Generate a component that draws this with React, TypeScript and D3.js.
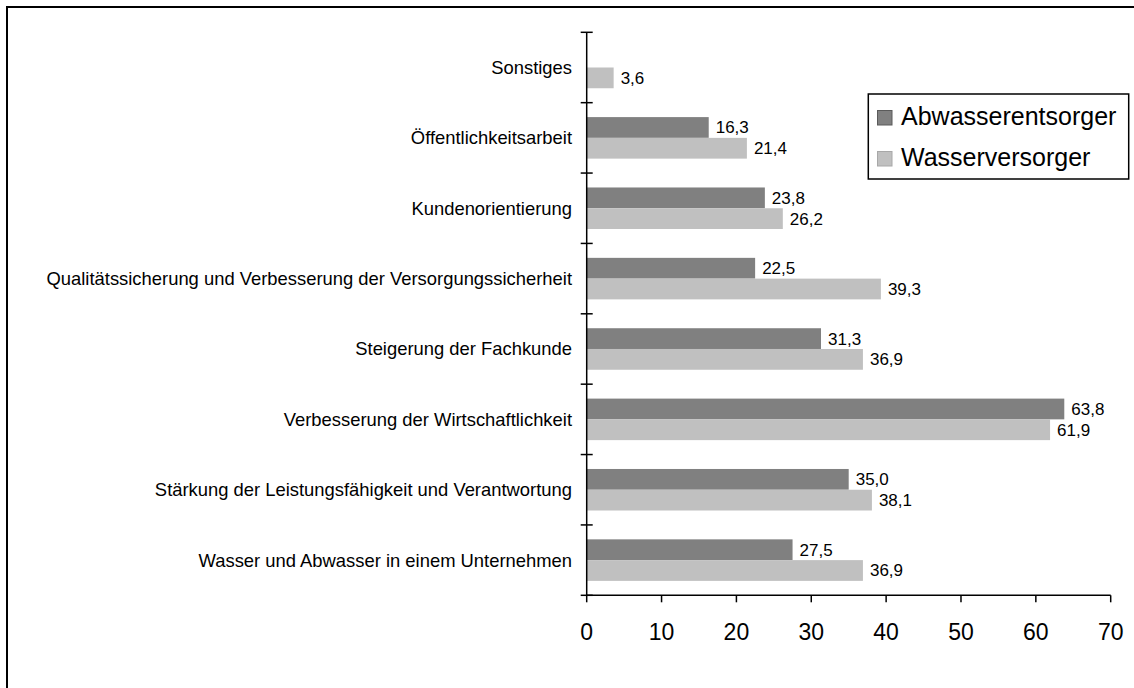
import React from "react";
import * as d3 from "d3";

const categories = [
  "Sonstiges",
  "Öffentlichkeitsarbeit",
  "Kundenorientierung",
  "Qualitätssicherung und Verbesserung der Versorgungssicherheit",
  "Steigerung der Fachkunde",
  "Verbesserung der Wirtschaftlichkeit",
  "Stärkung der Leistungsfähigkeit und Verantwortung",
  "Wasser und Abwasser in einem Unternehmen",
];
const abwasserentsorger: (number | null)[] = [null, 16.3, 23.8, 22.5, 31.3, 63.8, 35.0, 27.5];
const wasserversorger: (number | null)[] = [3.6, 21.4, 26.2, 39.3, 36.9, 61.9, 38.1, 36.9];
const seriesNames = ["Abwasserentsorger", "Wasserversorger"];
const seriesColors = ["#808080", "#c0c0c0"];
const seriesStroke = ["#5a5a5a", "#a8a8a8"];
const xTicks = [0, 10, 20, 30, 40, 50, 60, 70];

const W = 1134;
const H = 688;
const FONT = "'Liberation Sans', Arial, sans-serif";

export default function App() {
  const x = d3.scaleLinear().domain([0, 70]).range([586.7, 1110.7]);
  const y = d3
    .scaleBand<string>()
    .domain(categories)
    .range([32.3, 595.3])
    .paddingInner(0.41)
    .paddingOuter(0.205);
  const sub = d3
    .scaleBand<string>()
    .domain(seriesNames)
    .range([0, y.bandwidth()]);
  const step = y.step();
  const y0 = 32.3;
  const axisY = 595.3;
  const fmt = (v: number) => d3.format(".1f")(v).replace(".", ",");
  const series = [abwasserentsorger, wasserversorger];

  return (
    <svg
      width={W}
      height={H}
      style={{ position: "absolute", left: 0, top: 0, background: "#fff" }}
      fontFamily={FONT}
    >
      <rect x={0} y={0} width={W} height={H} fill="#fff" />
      {/* frame */}
      <rect x={7} y={7} width={W + 20} height={H + 20} fill="none" stroke="#000" strokeWidth={2} />

      {/* bars */}
      {categories.map((c, i) =>
        series.map((s, si) => {
          const v = s[i];
          if (v == null) return null;
          const by = (y(c) as number) + (sub(seriesNames[si]) as number);
          const bh = sub.bandwidth();
          return (
            <g key={c + si}>
              <rect x={x(0)} y={by} width={x(v) - x(0)} height={bh} fill={seriesColors[si]} />
              <text
                x={x(v) + 7}
                y={by + bh / 2}
                dy="0.35em"
                fontSize={17}
                fill="#000"
              >
                {fmt(v)}
              </text>
            </g>
          );
        })
      )}

      {/* category labels */}
      {categories.map((c) => (
        <text
          key={c}
          x={572}
          y={(y(c) as number) + y.bandwidth() / 2}
          dy="0.35em"
          textAnchor="end"
          fontSize={18.4}
          fill="#000"
        >
          {c}
        </text>
      ))}

      {/* y axis */}
      <line x1={x(0)} x2={x(0)} y1={y0} y2={axisY} stroke="#000" strokeWidth={1.5} />
      {d3.range(categories.length + 1).map((k) => (
        <line
          key={k}
          x1={x(0) - 6}
          x2={x(0) + 6}
          y1={y0 + k * step}
          y2={y0 + k * step}
          stroke="#000"
          strokeWidth={1.5}
        />
      ))}

      {/* x axis */}
      <line x1={x(0)} x2={x(70)} y1={axisY} y2={axisY} stroke="#000" strokeWidth={1.5} />
      {xTicks.map((t) => (
        <g key={t}>
          <line x1={x(t)} x2={x(t)} y1={axisY} y2={axisY + 7} stroke="#000" strokeWidth={1.5} />
          <text x={x(t)} y={640} textAnchor="middle" fontSize={23} fill="#000">
            {t}
          </text>
        </g>
      ))}

      {/* legend */}
      <rect x={868.3} y={94} width={260.4} height={85} fill="#fff" stroke="#000" strokeWidth={1.5} />
      {seriesNames.map((n, i) => (
        <g key={n}>
          <rect
            x={877.5}
            y={110.5 + i * 41}
            width={14.5}
            height={14.5}
            fill={seriesColors[i]}
            stroke={seriesStroke[i]}
            strokeWidth={1}
          />
          <text x={901} y={125 + i * 41} fontSize={25} fill="#000">
            {n}
          </text>
        </g>
      ))}
    </svg>
  );
}
